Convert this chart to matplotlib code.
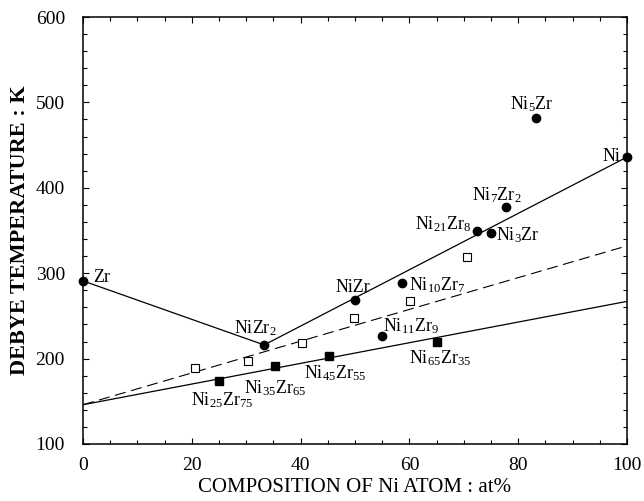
import numpy as np
import matplotlib
matplotlib.use("Agg")
import matplotlib.pyplot as plt
from matplotlib.ticker import MultipleLocator

plt.rcParams['font.family'] = ['Liberation Serif', 'DejaVu Serif']
plt.rcParams['mathtext.fontset'] = 'custom'
plt.rcParams['mathtext.rm'] = 'Liberation Serif'
plt.rcParams['mathtext.it'] = 'Liberation Serif'

# crystalline compounds (filled circles)
cryst_x = [0, 33.3, 50, 55, 58.7, 72.4, 75, 77.8, 83.3, 100]
cryst_y = [291, 216, 269, 226.5, 288, 349.5, 347, 377, 482, 436]
cryst_lab = ['Zr', r'NiZr$_2$', 'NiZr', r'Ni$_{11}$Zr$_9$', r'Ni$_{10}$Zr$_7$',
             r'Ni$_{21}$Zr$_8$', r'Ni$_3$Zr', r'Ni$_7$Zr$_2$', r'Ni$_5$Zr', 'Ni']
cryst_txt = [(1.9, 290), (31.6, 229.5), (49.6, 278.3), (55.1, 231.5), (60.0, 280.3),
             (71.3, 351.4), (76.0, 339), (76.1, 385), (82.5, 492), (98.7, 431)]
cryst_ha = ['left', 'center', 'center', 'left', 'left',
            'right', 'left', 'center', 'center', 'right']

# amorphous alloys (filled squares)
amor_x = [25, 35.3, 45.2, 65.1]
amor_y = [174, 191, 203, 220]
amor_lab = [r'Ni$_{25}$Zr$_{75}$', r'Ni$_{35}$Zr$_{65}$',
            r'Ni$_{45}$Zr$_{55}$', r'Ni$_{65}$Zr$_{35}$']
amor_txt = [(25.6, 145.7), (35.4, 159.7), (46.3, 177), (65.6, 194)]

# open squares
open_x = [20.5, 30.4, 40.2, 49.9, 60.1, 70.6]
open_y = [189.5, 197.5, 218, 247, 268, 319]

# guide lines
upper_x = [0, 33.3, 100]
upper_y = [291, 216, 436]
lower_x = [0, 100]
lower_y = [146, 267]
dash_x = [0, 100]
dash_y = [146, 332]

fig = plt.figure(figsize=(6.44, 5.01), dpi=100)
ax = fig.add_axes([83/644, 1-444/501, 544/644, 427/501])

ax.plot(upper_x, upper_y, color='black', lw=0.9)
ax.plot(lower_x, lower_y, color='black', lw=0.9)
ax.plot(dash_x, dash_y, color='black', lw=0.8, dashes=(10, 5))

ax.plot(cryst_x, cryst_y, 'o', color='black', ms=6, clip_on=False)
ax.plot(amor_x, amor_y, 's', color='black', ms=5.5)
ax.plot(open_x, open_y, 's', mfc='white', mec='black', mew=0.8, ms=5.5)

for lab, (tx, ty), ha in zip(cryst_lab, cryst_txt, cryst_ha):
    ax.text(tx, ty, lab, ha=ha, va='baseline', fontsize=13)
for lab, (tx, ty) in zip(amor_lab, amor_txt):
    ax.text(tx, ty, lab, ha='center', va='baseline', fontsize=13)

ax.set_xlim(0, 100)
ax.set_ylim(100, 600)
ax.xaxis.set_major_locator(MultipleLocator(20))
ax.xaxis.set_minor_locator(MultipleLocator(5))
ax.yaxis.set_major_locator(MultipleLocator(100))
ax.yaxis.set_minor_locator(MultipleLocator(20))
ax.tick_params(which='both', direction='in', top=True, right=True,
               labelsize=14, width=0.8)
ax.tick_params(which='major', length=4)
ax.tick_params(which='minor', length=3)
ax.tick_params(axis='x', which='major', pad=9)
ax.tick_params(axis='y', which='major', pad=13)
for s in ax.spines.values():
    s.set_linewidth(1.1)

ax.set_xlabel('COMPOSITION OF Ni ATOM : at%', fontsize=15, labelpad=3)
ax.set_ylabel('DEBYE TEMPERATURE : K', fontsize=16, fontweight='bold', labelpad=4)

fig.savefig('out.png', dpi=100)
